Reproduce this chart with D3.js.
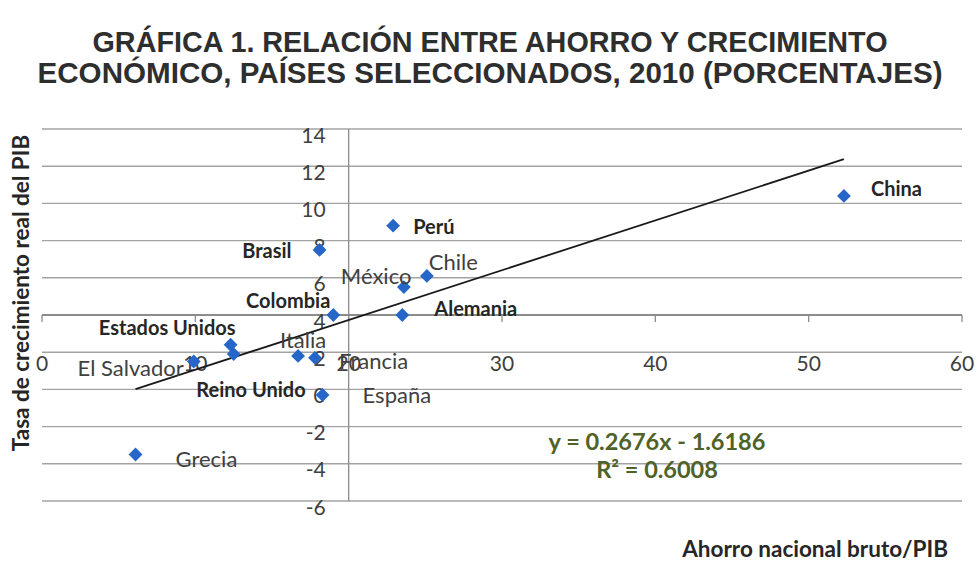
<!DOCTYPE html>
<html>
<head>
<meta charset="utf-8">
<script src="https://cdn.jsdelivr.net/npm/d3@7"></script>
<style>
  html, body { margin: 0; padding: 0; background: #fff; }
  svg { display: block; }
</style>
</head>
<body>
<svg id="chart" width="977" height="561"></svg>
<script>
// ---------- DATA ----------
const countries = ["China", "Perú", "Brasil", "Chile", "México", "Colombia", "Alemania",
  "Estados Unidos", "Reino Unido", "El Salvador", "Italia", "Francia", "España", "Grecia"];
const savings = [52.3, 22.9, 18.1, 25.1, 23.6, 19.0, 23.5, 12.3, 12.5, 9.9, 16.7, 17.8, 18.3, 6.1];
const growth  = [10.4, 8.8, 7.5, 6.1, 5.5, 4.0, 4.0, 2.4, 1.9, 1.5, 1.8, 1.7, -0.3, -3.5];
const yTicks = [-6, -4, -2, 0, 2, 4, 6, 8, 10, 12, 14];
const xTicks = [0, 10, 20, 30, 40, 50, 60];
const trendSlope = 0.2676;
const trendIntercept = -1.6186;
const equationText = "y = 0.2676x - 1.6186";
const r2Text = "R² = 0.6008";
const titleLines = ["GRÁFICA 1. RELACIÓN ENTRE AHORRO Y CRECIMIENTO",
  "ECONÓMICO, PAÍSES SELECCIONADOS, 2010 (PORCENTAJES)"];
const yTitle = "Tasa de crecimiento real del PIB";
const xTitle = "Ahorro nacional bruto/PIB";

// ---------- LABEL STYLE / PLACEMENT (layout only) ----------
const labelStyle = {
  "China":          {bold: true,  dx: 27,  dy: -8,  anchor: "start"},
  "Perú":           {bold: true,  dx: 20,  dy: 0,   anchor: "start"},
  "Brasil":         {bold: true,  dx: -28, dy: 0,   anchor: "end"},
  "Chile":          {bold: false, dx: 2,   dy: -14, anchor: "start"},
  "México":         {bold: false, dx: -63, dy: -12, anchor: "start"},
  "Colombia":       {bold: true,  dx: -3,  dy: -15, anchor: "end"},
  "Alemania":       {bold: true,  dx: 32,  dy: -7,  anchor: "start"},
  "Estados Unidos": {bold: true,  dx: 5,   dy: -18, anchor: "end"},
  "Reino Unido":    {bold: true,  dx: 72,  dy: 35,  anchor: "end"},
  "El Salvador":    {bold: false, dx: -10, dy: 6,   anchor: "end"},
  "Italia":         {bold: false, dx: -18, dy: -16, anchor: "start"},
  "Francia":        {bold: false, dx: 24,  dy: 3,   anchor: "start"},
  "España":         {bold: false, dx: 40,  dy: 0,   anchor: "start"},
  "Grecia":         {bold: false, dx: 40,  dy: 4,   anchor: "start"}
};

// ---------- CHART ----------
const svg = d3.select("#chart");
svg.append("rect").attr("width", 977).attr("height", 561).attr("fill", "#fff");

const x = d3.scaleLinear().domain([0, 60]).range([42, 962]);
const y = d3.scaleLinear().domain([-6, 14]).range([501, 129]);

const FONT = "Lato, 'Open Sans', sans-serif";

// Title
svg.selectAll("text.title").data(titleLines).enter().append("text")
  .attr("class", "title")
  .attr("x", 490).attr("y", (d, i) => 52 + i * 31)
  .attr("text-anchor", "middle")
  .attr("font-family", "'Liberation Sans', Arial, sans-serif")
  .attr("font-weight", "bold")
  .attr("font-size", 30)
  .attr("fill", "#2e2e2e")
  .attr("textLength", (d, i) => i === 0 ? 795 : 905)
  .attr("lengthAdjust", "spacingAndGlyphs")
  .text(d => d);

// Gridlines
svg.append("g").selectAll("line").data(yTicks).enter().append("line")
  .attr("x1", x(0)).attr("x2", x(60))
  .attr("y1", d => y(d)).attr("y2", d => y(d))
  .attr("stroke", d => d === 4 ? "#8c8c8c" : "#a3a3a3")
  .attr("stroke-width", d => d === 4 ? 2 : 1.4);

// Horizontal axis tick marks (axis crosses at y = 4)
svg.append("g").selectAll("line").data(xTicks).enter().append("line")
  .attr("x1", d => x(d)).attr("x2", d => x(d))
  .attr("y1", y(4)).attr("y2", y(4) + 7)
  .attr("stroke", "#8c8c8c").attr("stroke-width", 1.3);

// Vertical axis at x = 20
svg.append("line")
  .attr("x1", x(20)).attr("x2", x(20))
  .attr("y1", y(14)).attr("y2", y(-6))
  .attr("stroke", "#8c8c8c").attr("stroke-width", 1.3);

// Y tick labels
svg.append("g").selectAll("text").data(yTicks).enter().append("text")
  .attr("x", x(20) - 23).attr("y", d => y(d) + 5)
  .attr("text-anchor", "end").attr("dominant-baseline", "central")
  .attr("font-family", FONT).attr("font-size", 21).attr("fill", "#404040")
  .text(d => d);

// X tick labels
svg.append("g").selectAll("text").data(xTicks).enter().append("text")
  .attr("x", d => x(d)).attr("y", y(2) + 10)
  .attr("text-anchor", "middle").attr("dominant-baseline", "central")
  .attr("font-family", FONT).attr("font-size", 21).attr("fill", "#404040")
  .text(d => d);

// Trend line
const minX = d3.min(savings), maxX = d3.max(savings);
svg.append("line")
  .attr("x1", x(minX)).attr("y1", y(trendSlope * minX + trendIntercept))
  .attr("x2", x(maxX)).attr("y2", y(trendSlope * maxX + trendIntercept))
  .attr("stroke", "#1a1a1a").attr("stroke-width", 1.8);

// Points
const pts = countries.map((c, i) => ({name: c, sx: savings[i], gy: growth[i]}));
const diamond = d3.symbol(d3.symbolSquare, 95);
svg.append("g").selectAll("path").data(pts).enter().append("path")
  .attr("d", diamond)
  .attr("transform", d => `translate(${x(d.sx)},${y(d.gy)}) rotate(45)`)
  .attr("fill", "#2566c8");

// Point labels
svg.append("g").selectAll("text").data(pts).enter().append("text")
  .attr("x", d => x(d.sx) + labelStyle[d.name].dx)
  .attr("y", d => y(d.gy) + labelStyle[d.name].dy)
  .attr("text-anchor", d => labelStyle[d.name].anchor)
  .attr("dominant-baseline", "central")
  .attr("font-family", FONT)
  .attr("font-weight", d => labelStyle[d.name].bold ? "bold" : "normal")
  .attr("font-size", d => labelStyle[d.name].bold ? 20 : 22)
  .attr("fill", d => labelStyle[d.name].bold ? "#262626" : "#404040")
  .text(d => d.name);

// Equation
svg.append("text").attr("x", 657).attr("y", 441)
  .attr("text-anchor", "middle").attr("dominant-baseline", "central")
  .attr("font-family", FONT).attr("font-weight", "bold").attr("font-size", 23.5)
  .attr("fill", "#4f6228").text(equationText);
svg.append("text").attr("x", 657).attr("y", 469)
  .attr("text-anchor", "middle").attr("dominant-baseline", "central")
  .attr("font-family", FONT).attr("font-weight", "bold").attr("font-size", 23.5)
  .attr("fill", "#4f6228").text(r2Text);

// Axis titles
svg.append("text")
  .attr("transform", "translate(20,293) rotate(-90)")
  .attr("text-anchor", "middle").attr("dominant-baseline", "central")
  .attr("font-family", FONT).attr("font-weight", "bold").attr("font-size", 22.5)
  .attr("fill", "#262626").text(yTitle);
svg.append("text")
  .attr("x", 948).attr("y", 548)
  .attr("text-anchor", "end").attr("dominant-baseline", "central")
  .attr("font-family", FONT).attr("font-weight", "bold").attr("font-size", 22.5)
  .attr("fill", "#262626").text(xTitle);
</script>
</body>
</html>
